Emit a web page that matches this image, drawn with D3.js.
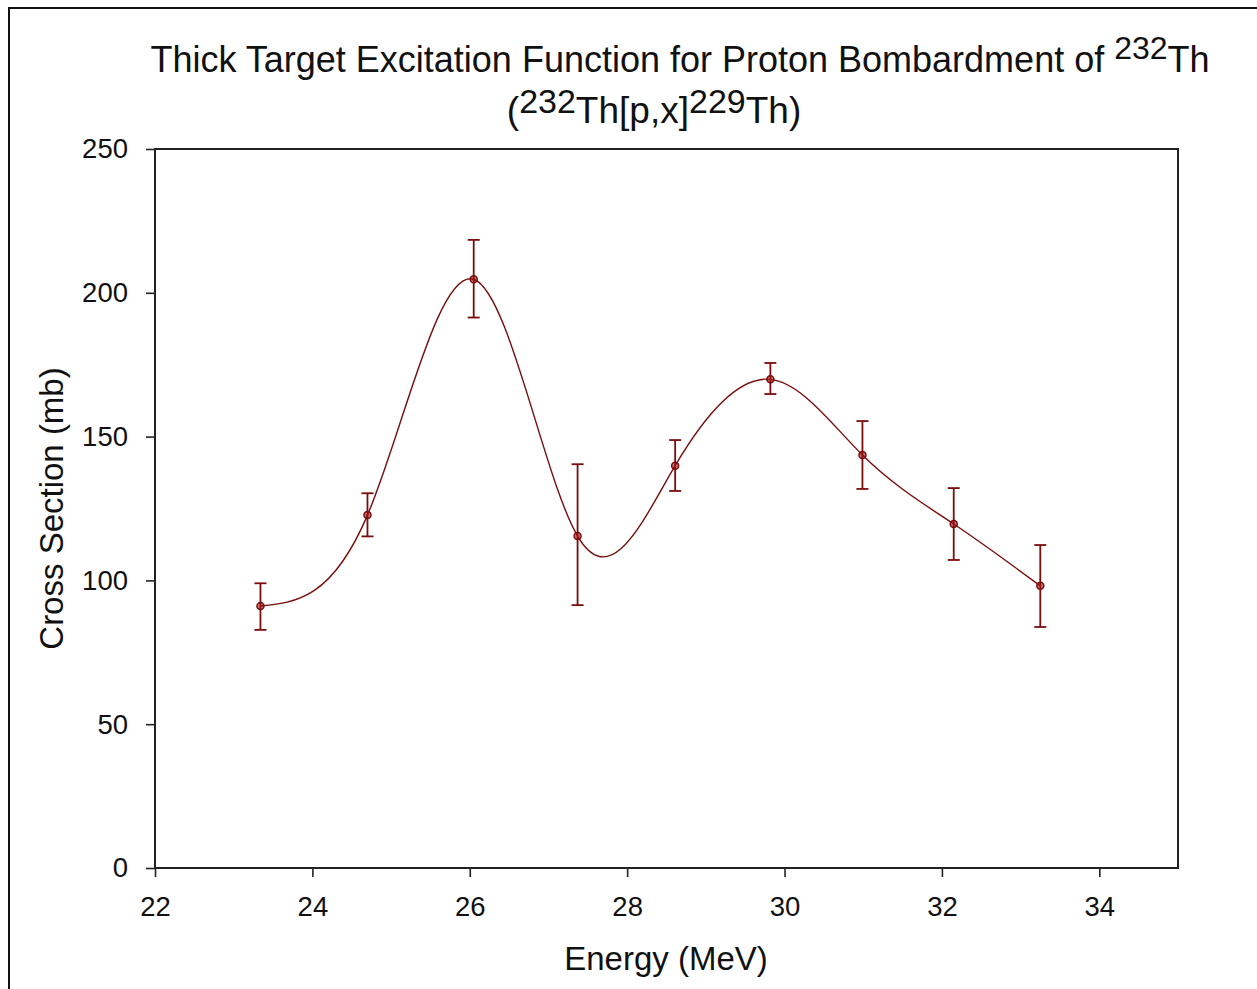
<!DOCTYPE html>
<html>
<head>
<meta charset="utf-8">
<script src="https://cdn.jsdelivr.net/npm/d3@7"></script>
<style>
  body { margin: 0; background: #fff; }
  text { font-family: "Liberation Sans", Arial, sans-serif; fill: #111; }
</style>
</head>
<body>
<svg id="chart"></svg>
<script>
const width = 1257;
const height = 989;

// data
const energy = [23.34, 24.70, 26.05, 27.37, 28.61, 29.82, 30.99, 32.15, 33.25];
const crossSection = [91.1, 122.7, 204.7, 115.4, 139.9, 169.9, 143.6, 119.6, 98.1];
const errUpper = [99.0, 130.3, 218.4, 140.4, 148.8, 175.6, 155.4, 132.1, 112.3];
const errLower = [82.8, 115.3, 191.4, 91.4, 131.1, 164.8, 131.8, 107.1, 83.8];
const xTicks = [22, 24, 26, 28, 30, 32, 34];
const yTicks = [0, 50, 100, 150, 200, 250];

const margin = {left: 155, right: 1178, top: 149, bottom: 868};
const lineColor = "#7b0c0c";

let svg = d3.select("#chart")
    .attr("width", width)
    .attr("height", height);

// outer border of the figure
svg.append("rect")
    .attr("x", 9).attr("y", 8)
    .attr("width", width + 20).attr("height", height + 20)
    .attr("fill", "none")
    .attr("stroke", "#111")
    .attr("stroke-width", 2);

const x = d3.scaleLinear().domain([22, 35]).range([margin.left, margin.right]);
const y = d3.scaleLinear().domain([0, 250]).range([margin.bottom, margin.top]);

// axes
const xAxis = svg.append("g")
    .attr("transform", "translate(0," + margin.bottom + ")")
    .call(d3.axisBottom(x).tickValues(xTicks).tickSize(9).tickSizeOuter(0).tickPadding(18));
const yAxis = svg.append("g")
    .attr("transform", "translate(" + margin.left + ",0)")
    .call(d3.axisLeft(y).tickValues(yTicks).tickSize(9).tickSizeOuter(0).tickPadding(18));

[xAxis, yAxis].forEach(a => {
    a.select(".domain").remove();
    a.selectAll("line").attr("stroke", "#222").attr("stroke-width", 1.6);
    a.selectAll("text")
        .attr("font-size", 27.5)
        .attr("fill", "#111")
        .style("font-family", "'Liberation Sans', Arial, sans-serif");
});
xAxis.selectAll("text").attr("dy", "0.75em");

// plot frame
svg.append("rect")
    .attr("x", margin.left).attr("y", margin.top)
    .attr("width", margin.right - margin.left)
    .attr("height", margin.bottom - margin.top)
    .attr("fill", "none")
    .attr("stroke", "#222")
    .attr("stroke-width", 2);

// smooth curve through the points
const points = energy.map((e, i) => [e, crossSection[i]]);
const line = d3.line()
    .x(d => x(d[0]))
    .y(d => y(d[1]))
    .curve(d3.curveNatural);

svg.append("path")
    .datum(points)
    .attr("d", line)
    .attr("fill", "none")
    .attr("stroke", lineColor)
    .attr("stroke-width", 1.4);

// error bars
const bars = svg.append("g").attr("stroke", lineColor).attr("stroke-width", 1.8);
energy.forEach((e, i) => {
    bars.append("line")
        .attr("x1", x(e)).attr("x2", x(e))
        .attr("y1", y(errUpper[i])).attr("y2", y(errLower[i]));
    [errUpper[i], errLower[i]].forEach(v => {
        bars.append("line")
            .attr("x1", x(e) - 6).attr("x2", x(e) + 6)
            .attr("y1", y(v)).attr("y2", y(v));
    });
});

// markers
svg.append("g").selectAll("circle")
    .data(points)
    .enter()
    .append("circle")
    .attr("cx", d => x(d[0]))
    .attr("cy", d => y(d[1]))
    .attr("r", 3.5)
    .attr("fill", "#a01818")
    .attr("fill-opacity", 0.6)
    .attr("stroke", lineColor)
    .attr("stroke-width", 1.5);

// titles
const title1 = svg.append("text")
    .attr("x", 680).attr("y", 72)
    .attr("text-anchor", "middle")
    .attr("font-size", 36);
title1.append("tspan").text("Thick Target Excitation Function for Proton Bombardment of ");
title1.append("tspan").attr("font-size", 32).attr("dy", -13).text("232");
title1.append("tspan").attr("dy", 13).text("Th");

const title2 = svg.append("text")
    .attr("x", 654).attr("y", 123)
    .attr("text-anchor", "middle")
    .attr("font-size", 37);
title2.append("tspan").text("(");
title2.append("tspan").attr("font-size", 34).attr("dy", -10).text("232");
title2.append("tspan").attr("dy", 10).text("Th[p,x]");
title2.append("tspan").attr("font-size", 34).attr("dy", -10).text("229");
title2.append("tspan").attr("dy", 10).text("Th)");

svg.append("text")
    .attr("x", 666).attr("y", 970)
    .attr("text-anchor", "middle")
    .attr("font-size", 33)
    .text("Energy (MeV)");

svg.append("text")
    .attr("transform", "translate(63," + (margin.top + margin.bottom) / 2 + ") rotate(-90)")
    .attr("text-anchor", "middle")
    .attr("font-size", 33)
    .text("Cross Section (mb)");
</script>
</body>
</html>
